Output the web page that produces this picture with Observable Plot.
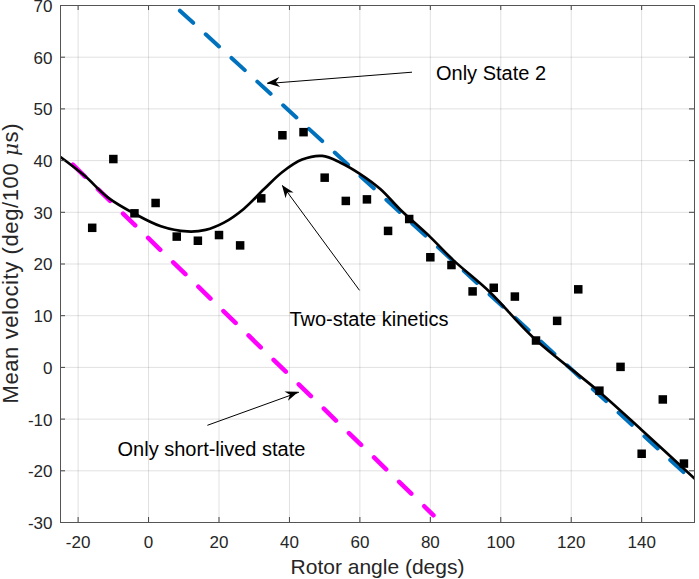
<!DOCTYPE html>
<html>
<head>
<meta charset="utf-8">
<script src="https://cdn.jsdelivr.net/npm/d3@7"></script>
<script src="https://cdn.jsdelivr.net/npm/@observablehq/plot@0.6"></script>
<style>
  html, body { margin: 0; padding: 0; background: #fff; }
  #chart { width: 699px; height: 579px; }
</style>
</head>
<body>
<div id="chart"></div>
<script>
// Measured data points (rotor angle in degs, mean velocity in deg/100 µs)
const angles = [-16, -10, -4, 2, 8, 14, 20, 26, 32, 38, 44, 50, 56, 62, 68, 74, 80, 86, 92, 98, 104, 110, 116, 122, 128, 134, 140, 146, 152];
const velocities = [27.0, 40.3, 29.8, 31.8, 25.3, 24.5, 25.6, 23.6, 32.7, 44.9, 45.5, 36.7, 32.2, 32.5, 26.4, 28.7, 21.3, 19.8, 14.7, 15.4, 13.7, 5.2, 9.0, 15.1, -4.5, 0.1, -16.7, -6.2, -18.6];

// Two-state kinetics model curve
const modelX = [-25, -18.2, -11.6, -3.9, 3.5, 11, 16.2, 21.4, 27.1, 32.8, 38, 43.6, 49.3, 54.5, 60.1, 65.8, 71.5, 80, 86.6, 97, 109.2, 128.1, 140, 155];
const modelY = [40.7, 37.1, 32.9, 29.7, 27.3, 26.3, 26.6, 28.0, 30.7, 34.5, 37.8, 40.2, 40.9, 39.6, 37.4, 34.5, 30.5, 25.2, 20.7, 14.5, 5.8, -4.8, -12.1, -21.5];

// Only State 2 (blue dashed) endpoints
const state2X = [8.9, 155];
const state2Y = [69.0, -22.2];

// Only short-lived state (magenta dashed) endpoints
const shortX = [-21.5, 80.9];
const shortY = [39.2, -28.6];

// Tick values
const xTicks = [-20, 0, 20, 40, 60, 80, 100, 120, 140];
const yTicks = [-30, -20, -10, 0, 10, 20, 30, 40, 50, 60, 70];

// Annotations
const labels = ["Only State 2", "Two-state kinetics", "Only short-lived state"];
const labelX = [81.6, 40.0, -8.8];
const labelY = [55.5, 8.1, -17.2];
const arrowFromX = [74.8, 59.9, 16.7];
const arrowFromY = [57.1, 14.9, -11.2];
const arrowToX = [33.7, 38.0, 42.7];
const arrowToY = [54.9, 35.2, -4.8];

const xLabel = "Rotor angle (degs)";

const points = angles.map((a, i) => ({x: a, y: velocities[i]}));
const model = modelX.map((x, i) => ({x, y: modelY[i]}));
const state2 = state2X.map((x, i) => ({x, y: state2Y[i]}));
const shortLived = shortX.map((x, i) => ({x, y: shortY[i]}));
const notes = labels.map((t, i) => ({
  text: t, x: labelX[i], y: labelY[i],
  x1: arrowFromX[i], y1: arrowFromY[i], x2: arrowToX[i], y2: arrowToY[i]
}));

const FONT = "'Liberation Sans', Arial, Helvetica, sans-serif";
const W = 699, H = 579, ML = 60, MR = 5, MT = 5, MB = 57;
const innerW = W - ML - MR, innerH = H - MT - MB;

function arrowHeads(index, scales) {
  const g = d3.create("svg:g").attr("fill", "#000").attr("stroke", "none");
  for (const n of notes) {
    const x1 = scales.x(n.x1), y1 = scales.y(n.y1);
    const x2 = scales.x(n.x2), y2 = scales.y(n.y2);
    const a = Math.atan2(y2 - y1, x2 - x1);
    const L = 13, hw = 5, notch = 4;
    const ca = Math.cos(a), sa = Math.sin(a);
    const bx = x2 - L * ca, by = y2 - L * sa;
    const p1 = [bx - hw * sa, by + hw * ca];
    const p2 = [bx + hw * sa, by - hw * ca];
    const pn = [x2 - (L - notch) * ca, y2 - (L - notch) * sa];
    g.append("path").attr("d", `M${x2},${y2}L${p1[0]},${p1[1]}L${pn[0]},${pn[1]}L${p2[0]},${p2[1]}Z`);
  }
  return g.node();
}

const chart = Plot.plot({
  width: W, height: H,
  marginLeft: ML, marginRight: MR, marginTop: MT, marginBottom: MB,
  x: {domain: [-25, 155]},
  y: {domain: [-30, 70]},
  style: {fontFamily: FONT, background: "#fff"},
  marks: [
    Plot.gridX(xTicks, {stroke: "#000", strokeOpacity: 0.12}),
    Plot.gridY(yTicks, {stroke: "#000", strokeOpacity: 0.12}),
    Plot.line(state2, {x: "x", y: "y", stroke: "#0072BD", strokeWidth: 4, strokeDasharray: "18,17", clip: true}),
    Plot.line(shortLived, {x: "x", y: "y", stroke: "#FF00FF", strokeWidth: 4.5, strokeDasharray: "17,18", clip: true}),
    Plot.line(model, {x: "x", y: "y", stroke: "#000", strokeWidth: 2.7, curve: "catmull-rom", clip: true}),
    Plot.dot(points, {x: "x", y: "y", symbol: "square", r: 4.8, fill: "#000", stroke: "none"}),
    Plot.link(notes, {x1: "x1", y1: "y1", x2: "x2", y2: "y2", stroke: "#000", strokeWidth: 1}),
    arrowHeads,
    Plot.text(notes, {x: "x", y: "y", text: "text", textAnchor: "start", lineAnchor: "bottom", fontSize: 20, fill: "#000"}),
    // inward ticks on all four sides
    Plot.ruleX(xTicks, {stroke: "#444", insetTop: innerH - 5}),
    Plot.ruleX(xTicks, {stroke: "#444", insetBottom: innerH - 5}),
    Plot.ruleY(yTicks, {stroke: "#444", insetRight: innerW - 5}),
    Plot.ruleY(yTicks, {stroke: "#444", insetLeft: innerW - 5}),
    Plot.frame({stroke: "#555", strokeWidth: 1}),
    Plot.axisX(xTicks, {tickSize: 0, tickPadding: 13, fontSize: 17, fill: "#262626", tickFormat: d => String(d), label: null}),
    Plot.axisY(yTicks, {tickSize: 0, tickPadding: 8, fontSize: 17, fill: "#262626", tickFormat: d => String(d), label: null, dy: 1}),
    Plot.text([xLabel], {frameAnchor: "bottom", dy: 51, lineAnchor: "bottom", fontSize: 21, fill: "#262626"})
  ]
});

// y-axis title with italic mu
const svg = d3.select(chart);
const yl = svg.append("text")
  .attr("transform", `translate(18,${MT + innerH / 2}) rotate(-90)`)
  .attr("text-anchor", "middle")
  .attr("font-family", FONT)
  .attr("font-size", 22)
  .attr("textLength", 280)
  .attr("lengthAdjust", "spacing")
  .attr("fill", "#262626");
yl.append("tspan").text("Mean velocity (deg/100 ");
yl.append("tspan").attr("font-style", "italic").attr("font-family", "'DejaVu Serif', serif").attr("font-size", 20).text("\u03BC");
yl.append("tspan").text("s)");

document.getElementById("chart").appendChild(chart);
</script>
</body>
</html>
